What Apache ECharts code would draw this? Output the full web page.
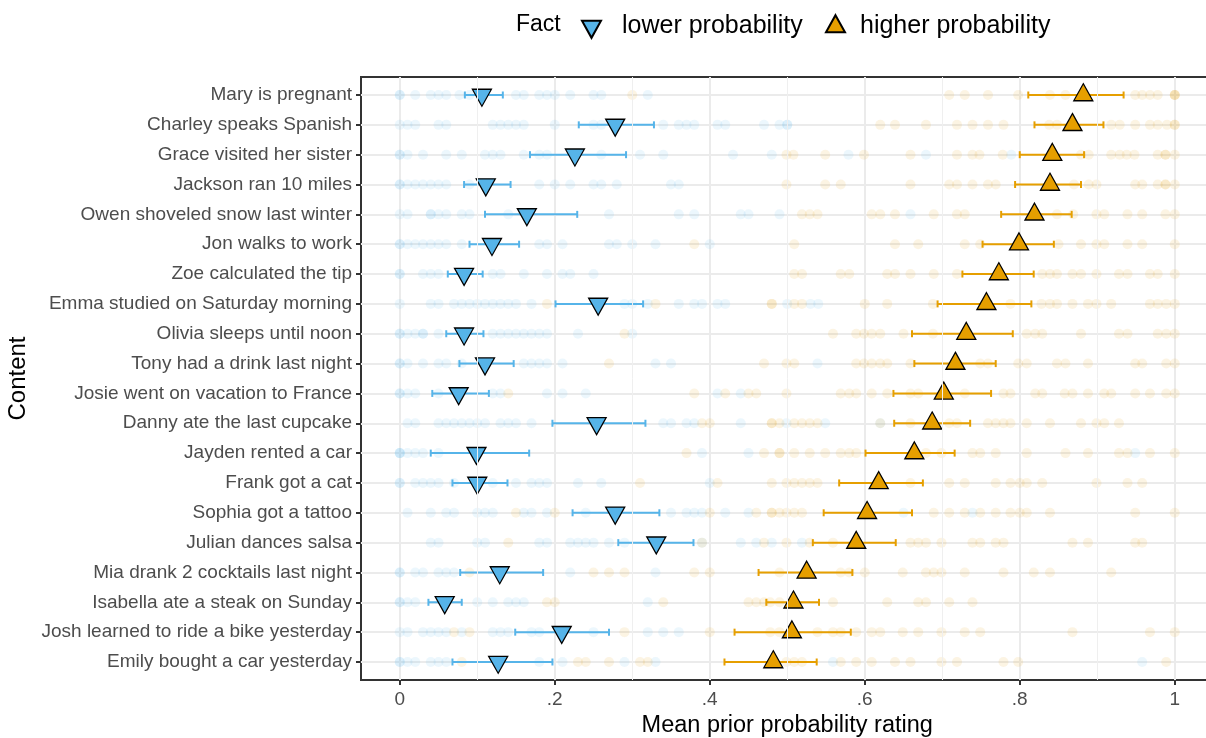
<!DOCTYPE html>
<html>
<head>
<meta charset="utf-8">
<script src="https://cdn.jsdelivr.net/npm/echarts@6/dist/echarts.min.js"></script>
<style>html,body{margin:0;padding:0;background:#fff}#c{width:1206px;height:738px}</style>
</head>
<body>
<div id="c"></div>
<script>
const categories = [
  "Mary is pregnant", "Charley speaks Spanish", "Grace visited her sister", "Jackson ran 10 miles",
  "Owen shoveled snow last winter", "Jon walks to work", "Zoe calculated the tip",
  "Emma studied on Saturday morning", "Olivia sleeps until noon", "Tony had a drink last night",
  "Josie went on vacation to France", "Danny ate the last cupcake", "Jayden rented a car",
  "Frank got a cat", "Sophia got a tattoo", "Julian dances salsa", "Mia drank 2 cocktails last night",
  "Isabella ate a steak on Sunday", "Josh learned to ride a bike yesterday", "Emily bought a car yesterday"
];
const seriesNames = ["lower probability", "higher probability"];

const lowMean = [0.106, 0.278, 0.226, 0.111, 0.164, 0.119, 0.083, 0.256, 0.083, 0.110, 0.076, 0.254, 0.099, 0.100, 0.278, 0.331, 0.129, 0.058, 0.209, 0.127];
const lowLo   = [0.084, 0.231, 0.168, 0.083, 0.110, 0.090, 0.062, 0.201, 0.060, 0.077, 0.042, 0.197, 0.040, 0.068, 0.223, 0.282, 0.078, 0.037, 0.149, 0.068];
const lowHi   = [0.133, 0.328, 0.292, 0.143, 0.229, 0.154, 0.107, 0.314, 0.108, 0.147, 0.115, 0.317, 0.167, 0.139, 0.335, 0.379, 0.185, 0.080, 0.270, 0.197];

const highMean = [0.882, 0.868, 0.842, 0.839, 0.819, 0.799, 0.773, 0.757, 0.731, 0.717, 0.702, 0.687, 0.664, 0.618, 0.603, 0.589, 0.525, 0.508, 0.506, 0.482];
const highLo   = [0.811, 0.819, 0.800, 0.794, 0.776, 0.752, 0.726, 0.694, 0.661, 0.664, 0.637, 0.638, 0.601, 0.567, 0.547, 0.533, 0.463, 0.473, 0.432, 0.419];
const highHi   = [0.934, 0.908, 0.883, 0.879, 0.867, 0.844, 0.818, 0.815, 0.791, 0.769, 0.763, 0.736, 0.716, 0.675, 0.661, 0.640, 0.584, 0.541, 0.582, 0.538];

// individual ratings (faint background dots), one list per row
const lowDots = [
  [0,0,0.02,0.04,0.05,0.06,0.077,0.09,0.15,0.16,0.18,0.19,0.2,0.22,0.25,0.26,0.32],
  [0,0.01,0.02,0.05,0.06,0.12,0.13,0.14,0.15,0.16,0.2,0.25,0.26,0.34,0.36,0.37,0.38,0.41,0.42,0.47,0.49,0.5,0.5],
  [0,0,0.01,0.03,0.06,0.08,0.11,0.12,0.13,0.16,0.18,0.19,0.26,0.31,0.34,0.43,0.48,0.579,0.679,0.789],
  [0,0,0.01,0.02,0.03,0.04,0.05,0.06,0.09,0.18,0.2,0.22,0.25,0.26,0.28,0.35,0.36],
  [0,0.01,0.04,0.04,0.05,0.06,0.08,0.09,0.14,0.27,0.36,0.38,0.44,0.45,0.49,0.659],
  [0,0,0.01,0.02,0.03,0.04,0.05,0.06,0.08,0.18,0.19,0.21,0.27,0.28,0.3,0.33,0.4],
  [0,0,0.03,0.04,0.05,0.12,0.13,0.16,0.19,0.21,0.22,0.25],
  [0,0.04,0.05,0.07,0.08,0.09,0.1,0.11,0.12,0.13,0.14,0.15,0.17,0.29,0.3,0.32,0.36,0.38,0.39,0.41,0.42,0.5,0.53,0.54],
  [0,0,0.01,0.02,0.03,0.03,0.05,0.12,0.13,0.14,0.15,0.16,0.17,0.18,0.19,0.23,0.3],
  [0,0,0.01,0.03,0.05,0.06,0.08,0.16,0.17,0.18,0.19,0.21,0.33,0.35,0.539],
  [0,0,0.01,0.02,0.05,0.12,0.13,0.19,0.21,0.24,0.41,0.44],
  [0.01,0.02,0.05,0.06,0.07,0.08,0.09,0.1,0.11,0.13,0.14,0.15,0.17,0.34,0.35,0.37,0.38,0.44,0.499,0.549,0.62],
  [0,0,0,0.01,0.02,0.03,0.05,0.39,0.45,0.949],
  [0,0,0.02,0.03,0.04,0.05,0.07,0.12,0.15,0.17,0.18,0.19,0.23,0.26,0.4],
  [0.01,0.04,0.06,0.07,0.1,0.11,0.12,0.16,0.17,0.19,0.24,0.35,0.37,0.38,0.39,0.42,0.45,0.65,0.739],
  [0.04,0.05,0.1,0.11,0.18,0.19,0.22,0.23,0.24,0.25,0.27,0.29,0.39,0.44,0.46,0.48,0.519],
  [0,0,0.02,0.03,0.05,0.06,0.07,0.22,0.33],
  [0,0,0.01,0.02,0.1,0.12,0.14,0.15,0.16,0.32],
  [0,0.01,0.03,0.04,0.05,0.06,0.08,0.12,0.13,0.14,0.17,0.18,0.25,0.32,0.34,0.36],
  [0,0,0.01,0.02,0.04,0.05,0.06,0.18,0.21,0.29,0.33,0.559,0.958]
];
const highDots = [
  [0.3,0.709,0.729,0.759,0.798,0.839,0.859,0.949,0.958,0.968,0.978,1,1,1],
  [0.62,0.639,0.679,0.719,0.739,0.759,0.779,0.838,0.848,0.918,0.929,0.949,0.968,0.978,0.99,1,1],
  [0.499,0.508,0.549,0.599,0.659,0.719,0.739,0.748,0.778,0.879,0.889,0.918,0.929,0.938,0.948,0.978,0.988,0.988,1],
  [0.499,0.549,0.569,0.659,0.709,0.719,0.739,0.759,0.769,0.87,0.889,0.899,0.949,0.958,0.978,0.988,0.988,1],
  [0.519,0.529,0.539,0.609,0.62,0.639,0.689,0.719,0.729,0.848,0.869,0.899,0.909,0.939,0.958,0.988,1],
  [0.38,0.509,0.639,0.669,0.729,0.749,0.85,0.879,0.899,0.909,0.939,0.958,1],
  [0.509,0.519,0.569,0.58,0.629,0.639,0.659,0.689,0.719,0.829,0.839,0.848,0.868,0.879,0.899,0.928,0.939,0.968,0.978,1],
  [0.19,0.33,0.48,0.48,0.509,0.519,0.6,0.629,0.688,0.759,0.788,0.828,0.839,0.848,0.868,0.888,0.899,0.918,0.968,0.978,0.989,1],
  [0.29,0.559,0.589,0.599,0.609,0.62,0.65,0.688,0.809,0.82,0.829,0.879,0.928,0.939,0.978,0.989,1],
  [0.27,0.47,0.499,0.509,0.589,0.599,0.609,0.62,0.629,0.659,0.749,0.759,0.798,0.809,0.848,0.859,0.888,0.949,0.958,0.989,1],
  [0.14,0.38,0.42,0.45,0.46,0.499,0.569,0.58,0.589,0.609,0.629,0.659,0.669,0.729,0.779,0.788,0.82,0.829,0.858,0.868,0.888,0.909,0.918,0.949,0.968,0.989,1],
  [0.39,0.4,0.48,0.48,0.49,0.509,0.519,0.529,0.539,0.62,0.659,0.709,0.719,0.759,0.769,0.779,0.788,0.809,0.839,0.879,0.899,0.909,0.928],
  [0.37,0.47,0.49,0.49,0.509,0.529,0.549,0.569,0.58,0.589,0.679,0.699,0.739,0.749,0.769,0.809,0.859,0.888,0.928,0.939,0.968,1],
  [0.31,0.41,0.48,0.499,0.509,0.519,0.529,0.539,0.659,0.709,0.729,0.769,0.788,0.8,0.809,0.829,0.899,0.939,0.958],
  [0.15,0.2,0.4,0.46,0.48,0.48,0.49,0.499,0.509,0.519,0.689,0.709,0.729,0.749,0.769,0.788,0.8,0.809,0.839,0.949,1],
  [0.14,0.39,0.47,0.499,0.529,0.559,0.659,0.669,0.679,0.699,0.739,0.749,0.769,0.779,0.868,0.888,0.949,0.958],
  [0.09,0.25,0.27,0.29,0.38,0.4,0.49,0.569,0.58,0.6,0.649,0.679,0.689,0.699,0.729,0.779,0.818,0.839,0.918],
  [0.19,0.2,0.34,0.45,0.46,0.47,0.478,0.49,0.559,0.629,0.669,0.679,0.709,0.739],
  [0.07,0.09,0.29,0.4,0.478,0.49,0.539,0.559,0.569,0.589,0.609,0.62,0.649,0.669,0.699,0.729,0.749,0.868,0.968,1],
  [0.08,0.23,0.24,0.27,0.31,0.32,0.499,0.509,0.519,0.569,0.589,0.609,0.639,0.659,0.699,0.719,0.779,0.798,0.989]
];

const xTicks = [0, 0.2, 0.4, 0.6, 0.8, 1];
const xTickLabels = ["0", ".2", ".4", ".6", ".8", "1"];
const xMinorTicks = [0.1, 0.3, 0.5, 0.7, 0.9];

const BLUE = '#56B4E9', ORANGE = '#E69F00';
const FONT = '"Liberation Sans", Arial, Helvetica, sans-serif';
// triangles whose bounding box is centred on the centroid (invisible move-to extends the box)
const DOWN_TRI = 'path://M10,-5.67M0,0L19,0L9.5,17Z';
const UP_TRI = 'path://M9.5,22.67M9.5,0L19,17L0,17Z';
const TRI_SIZE = [19, 22.67];

function flattenDots(rows) {
  const out = [];
  rows.forEach((r, i) => r.forEach(v => out.push([v, i])));
  return out;
}
function ebRender(params, api) {
  const y = api.value(0), lo = api.value(1), hi = api.value(2);
  const p1 = api.coord([lo, y]), p2 = api.coord([hi, y]);
  const h = 3.5;
  const style = { stroke: api.visual('color'), lineWidth: 2 };
  return { type: 'group', children: [
    { type: 'line', shape: { x1: p1[0], y1: p1[1], x2: p2[0], y2: p2[1] }, style },
    { type: 'line', shape: { x1: p1[0], y1: p1[1] - h, x2: p1[0], y2: p1[1] + h }, style },
    { type: 'line', shape: { x1: p2[0], y1: p2[1] - h, x2: p2[0], y2: p2[1] + h }, style }
  ]};
}

const legendText = (pad) => ({ fontSize: 25, color: '#000', fontFamily: FONT, padding: [0, 0, 0, pad] });

const chart = echarts.init(document.getElementById('c'), null, { renderer: 'canvas' });
const option = {
  animation: false,
  backgroundColor: '#ffffff',
  textStyle: { fontFamily: FONT },
  title: {
    text: 'Fact', left: 516, top: 13, padding: 0,
    textStyle: { fontSize: 23, fontWeight: 'normal', color: '#000', fontFamily: FONT }
  },
  legend: [
    {
      left: 581, top: 14, padding: 0, itemWidth: TRI_SIZE[0], itemHeight: TRI_SIZE[1],
      data: [{ name: seriesNames[0], icon: DOWN_TRI }],
      textStyle: legendText(16)
    },
    {
      left: 825, top: 14, padding: 0, itemWidth: TRI_SIZE[0], itemHeight: TRI_SIZE[1],
      data: [{ name: seriesNames[1], icon: UP_TRI }],
      textStyle: legendText(10)
    }
  ],
  grid: [
    { left: 361, top: 77, width: 852.5, height: 603, outerBoundsMode: 'none', show: true, borderColor: '#333333', borderWidth: 2, backgroundColor: 'transparent' },
    { left: 361, top: 95, width: 852.5, height: 567, outerBoundsMode: 'none' }
  ],
  xAxis: [
    {
      gridIndex: 0, type: 'value', min: -0.05, max: 1.05, splitNumber: 5,
      axisLine: { show: false, onZero: false },
      axisTick: { show: true, length: 5, customValues: xTicks, lineStyle: { color: '#333333', width: 2 } },
      axisLabel: {
        customValues: xTicks, margin: 10, fontSize: 19, color: '#4D4D4D', fontFamily: FONT,
        formatter: v => { const i = xTicks.findIndex(t => Math.abs(t - v) < 1e-6); return i >= 0 ? xTickLabels[i] : ''; }
      },
      splitLine: { show: true, lineStyle: { color: '#EBEBEB', width: 2 } },
      name: 'Mean prior probability rating', nameLocation: 'middle', nameGap: 30,
      nameTextStyle: { fontSize: 23.5, color: '#000', fontFamily: FONT }
    },
    { gridIndex: 1, type: 'value', min: -0.05, max: 1.05, show: false }
  ],
  yAxis: [
    { gridIndex: 0, type: 'value', min: 0, max: 1, show: false },
    {
      gridIndex: 1, type: 'category', data: categories, inverse: true, boundaryGap: false,
      axisLine: { show: false, onZero: false },
      axisTick: { show: true, length: 5, interval: 0, lineStyle: { color: '#333333', width: 2 } },
      axisLabel: { interval: 0, margin: 9, fontSize: 19, color: '#4D4D4D', fontFamily: FONT },
      splitLine: { show: true, interval: 0, lineStyle: { color: '#EBEBEB', width: 2 } },
      name: 'Content', nameLocation: 'middle', nameRotate: 90, nameGap: 321,
      nameTextStyle: { fontSize: 24, color: '#000', fontFamily: FONT }
    }
  ],
  series: [
    {
      name: 'minor grid', type: 'scatter', xAxisIndex: 0, yAxisIndex: 0, data: [], silent: true, z: 1,
      markLine: {
        silent: true, symbol: 'none', label: { show: false }, animation: false,
        lineStyle: { color: '#EFEFEF', width: 1, type: 'solid' },
        data: xMinorTicks.map(v => ({ xAxis: v }))
      }
    },
    {
      name: 'low ratings', type: 'scatter', xAxisIndex: 1, yAxisIndex: 1, silent: true, z: 2,
      symbol: 'circle', symbolSize: 10, data: flattenDots(lowDots),
      itemStyle: { color: BLUE, opacity: 0.11 }
    },
    {
      name: 'high ratings', type: 'scatter', xAxisIndex: 1, yAxisIndex: 1, silent: true, z: 2,
      symbol: 'circle', symbolSize: 10, data: flattenDots(highDots),
      itemStyle: { color: ORANGE, opacity: 0.11 }
    },
    {
      name: 'low CI', type: 'custom', xAxisIndex: 1, yAxisIndex: 1, z: 3, silent: true,
      renderItem: ebRender, itemStyle: { color: BLUE },
      encode: { y: 0, x: [1, 2] },
      data: categories.map((c, i) => [i, lowLo[i], lowHi[i]])
    },
    {
      name: 'high CI', type: 'custom', xAxisIndex: 1, yAxisIndex: 1, z: 3, silent: true,
      renderItem: ebRender, itemStyle: { color: ORANGE },
      encode: { y: 0, x: [1, 2] },
      data: categories.map((c, i) => [i, highLo[i], highHi[i]])
    },
    {
      name: seriesNames[0], type: 'scatter', xAxisIndex: 1, yAxisIndex: 1, z: 4,
      symbol: DOWN_TRI, symbolSize: TRI_SIZE,
      itemStyle: { color: BLUE, borderColor: '#000', borderWidth: 1.3, opacity: 1 },
      data: lowMean.map((v, i) => [v, i])
    },
    {
      name: seriesNames[1], type: 'scatter', xAxisIndex: 1, yAxisIndex: 1, z: 4,
      symbol: UP_TRI, symbolSize: TRI_SIZE,
      itemStyle: { color: ORANGE, borderColor: '#000', borderWidth: 1.3, opacity: 1 },
      data: highMean.map((v, i) => [v, i])
    }
  ]
};
chart.setOption(option);
</script>
</body>
</html>
